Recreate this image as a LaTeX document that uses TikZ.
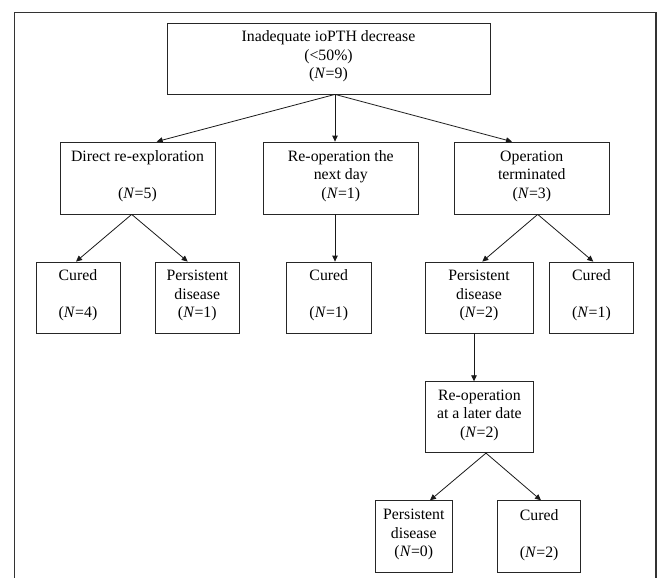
\documentclass[tikz,border=0pt]{standalone}
\usepackage{fontspec}
\setmainfont{Liberation Serif}
\usetikzlibrary{arrows.meta}
\newcommand{\nn}[1]{(\textit{N}=#1)\rule[-7pt]{0pt}{0pt}}
\begin{document}
\begin{tikzpicture}[x=1pt,y=-1pt,
  box/.style={draw=black!85,line width=0.8pt,rectangle,inner sep=0pt,align=center,
    font=\fontsize{15.8pt}{18.5pt}\selectfont},
  arr/.style={line width=0.8pt,draw=black!90,-{Triangle[length=6pt,width=5.5pt]}}]
\useasboundingbox (0,0) rectangle (662,578);
% outer frame
\draw[line width=1.2pt,black!80] (14.3,578) -- (14.3,12.3) -- (656,12.3) -- (656,578);
% nodes
\node[box,minimum width=323pt,minimum height=71pt] (top) at (328.5,58.5) {Inadequate ioPTH decrease\\(<50\%)\\\nn{9}};
\node[box,minimum width=155pt,minimum height=72pt] (direct) at (137.5,178) {Direct re-exploration\\[18.5pt]\nn{5}};
\node[box,minimum width=155.7pt,minimum height=72pt] (nextday) at (340.8,178) {Re-operation the\\next day\\\nn{1}};
\node[box,minimum width=155.5pt,minimum height=72pt] (opterm) at (531.8,178) {Operation\\terminated\\\nn{3}};
\node[box,minimum width=84pt,minimum height=71pt] (cured4) at (78,297.5) {Cured\\[18.5pt]\nn{4}};
\node[box,minimum width=84pt,minimum height=71pt] (pers1) at (197.3,297.5) {Persistent\\disease\\\nn{1}};
\node[box,minimum width=84.3pt,minimum height=71pt] (cured1a) at (328.8,297.5) {Cured\\[18.5pt]\nn{1}};
\node[box,minimum width=108pt,minimum height=71pt] (pers2) at (479,297.5) {Persistent\\disease\\\nn{2}};
\node[box,minimum width=83.6pt,minimum height=71pt] (cured1b) at (591.5,297.5) {Cured\\[18.5pt]\nn{1}};
\node[box,minimum width=108pt,minimum height=71pt] (reop) at (479.4,417.2) {Re-operation\\at a later date\\\nn{2}};
\node[box,minimum width=77.7pt,minimum height=72pt] (pers0) at (413.8,536.7) {Persistent\\disease\\\nn{0}};
\node[box,minimum width=83pt,minimum height=72pt] (cured2) at (539.2,536.7) {Cured\\[18.5pt]\nn{2}};
% connectors
\draw[arr] ([xshift=6.5pt]top.south) -- ([xshift=19.2pt]direct.north);
\draw[arr] ([xshift=6.5pt]top.south) -- ([xshift=-5.8pt]nextday.north);
\draw[arr] ([xshift=6.5pt]top.south) -- ([xshift=-19.8pt]opterm.north);
\draw[arr] ([xshift=-5.8pt]direct.south) -- ([xshift=-2pt]cured4.north);
\draw[arr] ([xshift=-5.8pt]direct.south) -- ([xshift=-9.6pt]pers1.north);
\draw[arr] ([xshift=-5.8pt]nextday.south) -- ([xshift=6.2pt]cured1a.north);
\draw[arr] ([xshift=5.9pt]opterm.south) -- ([xshift=3.3pt]pers2.north);
\draw[arr] ([xshift=5.9pt]opterm.south) -- ([xshift=1.8pt]cured1b.north);
\draw[arr] ([xshift=-5pt]pers2.south) -- ([xshift=-5.4pt]reop.north);
\draw[arr] ([xshift=6.6pt]reop.south) -- ([xshift=16.2pt]pers0.north);
\draw[arr] ([xshift=6.6pt]reop.south) -- ([xshift=1.8pt]cured2.north);
\end{tikzpicture}
\end{document}
